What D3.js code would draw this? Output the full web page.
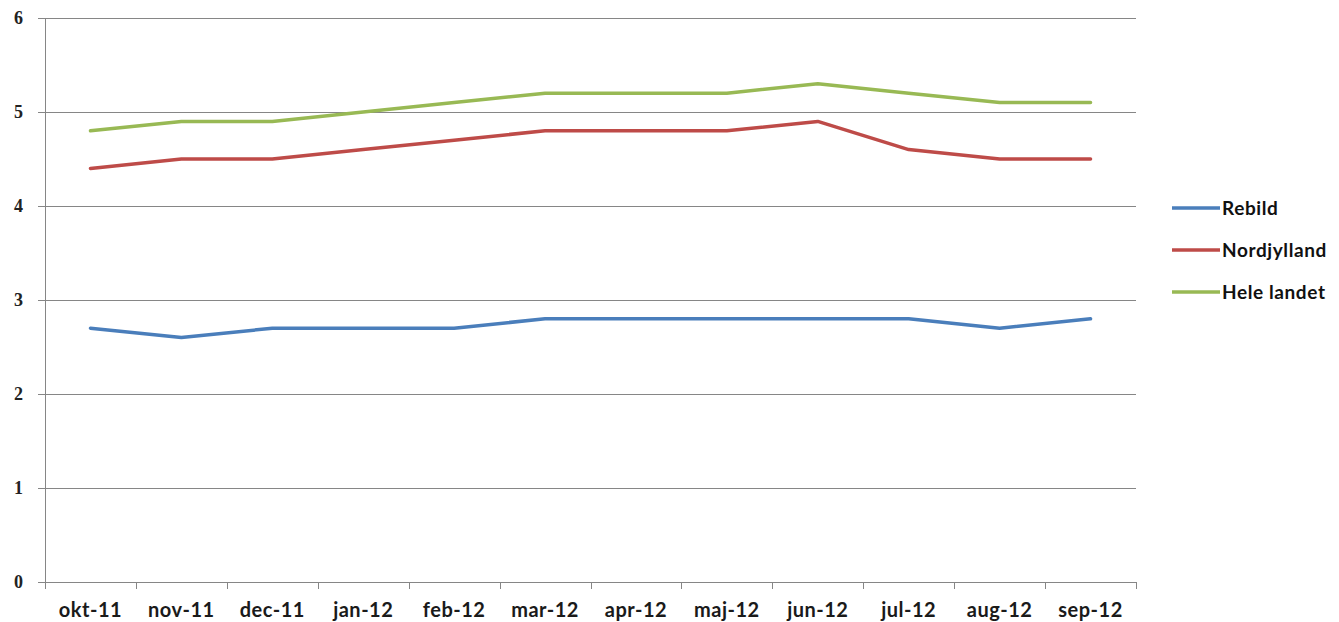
<!DOCTYPE html>
<html>
<head>
<meta charset="utf-8">
<script src="https://cdn.jsdelivr.net/npm/d3@7"></script>
<style>
  body { margin: 0; background: #fff; }
  svg { display: block; }
</style>
</head>
<body>
<script>
// maaneder langs x-aksen
const months = ["okt-11", "nov-11", "dec-11", "jan-12", "feb-12", "mar-12",
                "apr-12", "maj-12", "jun-12", "jul-12", "aug-12", "sep-12"];

// serier
const rebild = [2.7, 2.6, 2.7, 2.7, 2.7, 2.8, 2.8, 2.8, 2.8, 2.8, 2.7, 2.8];
const nordjylland = [4.4, 4.5, 4.5, 4.6, 4.7, 4.8, 4.8, 4.8, 4.9, 4.6, 4.5, 4.5];
const heleLandet = [4.8, 4.9, 4.9, 5.0, 5.1, 5.2, 5.2, 5.2, 5.3, 5.2, 5.1, 5.1];

const seriesNames = ["Rebild", "Nordjylland", "Hele landet"];
const seriesValues = [rebild, nordjylland, heleLandet];
const colors = ["#4A7EBB", "#BE4B48", "#98B954"];

const yTicks = [0, 1, 2, 3, 4, 5, 6];

const width = 1339, height = 622;
const plotLeft = 45, plotRight = 1136, plotTop = 18, plotBottom = 582;

const svg = d3.select("body").append("svg")
    .attr("width", width).attr("height", height);

const x = d3.scaleBand().domain(months).range([plotLeft, plotRight]);
const y = d3.scaleLinear().domain([0, 6]).range([plotBottom, plotTop]);

// gitterlinjer
svg.append("g").selectAll("line").data(yTicks).join("line")
    .attr("x1", plotLeft - 7).attr("x2", plotRight)
    .attr("y1", d => Math.round(y(d)) + 0.5).attr("y2", d => Math.round(y(d)) + 0.5)
    .attr("stroke", "#868686").attr("stroke-width", 1);

// y-akse
svg.append("line")
    .attr("x1", plotLeft + 0.5).attr("x2", plotLeft + 0.5)
    .attr("y1", plotTop).attr("y2", plotBottom)
    .attr("stroke", "#868686");

svg.append("g").selectAll("text").data(yTicks).join("text")
    .attr("x", 23).attr("y", d => y(d))
    .attr("dy", "0.35em")
    .attr("text-anchor", "end")
    .style("font-family", "Liberation Serif")
    .style("font-size", "18px")
    .style("font-weight", "bold")
    .attr("fill", "#222")
    .text(d => d);

// x-akse
const xAxis = svg.append("g")
    .attr("transform", `translate(0,${plotBottom + 0.5})`)
    .call(d3.axisBottom(x).tickSize(0).tickPadding(0));
xAxis.select(".domain").remove();
xAxis.selectAll("text")
    .attr("y", 34).attr("dy", 0)
    .style("font-family", "Lato")
    .style("font-size", "20px")
    .style("font-weight", "bold")
    .style("letter-spacing", "0.5px")
    .attr("fill", "#1a1a1a");

// skillestreger mellem kategorier
const bounds = months.map(m => x(m)).concat([plotRight]);
svg.append("g").selectAll("line").data(bounds).join("line")
    .attr("x1", d => Math.round(d) + 0.5).attr("x2", d => Math.round(d) + 0.5)
    .attr("y1", plotBottom).attr("y2", plotBottom + 7)
    .attr("stroke", "#868686");

// linjer
const line = d3.line()
    .x((d, i) => x(months[i]) + x.bandwidth() / 2)
    .y(d => y(d));

svg.append("g").selectAll("path").data(seriesValues).join("path")
    .attr("d", d => line(d))
    .attr("fill", "none")
    .attr("stroke", (d, i) => colors[i])
    .attr("stroke-width", 3.5)
    .attr("stroke-linejoin", "round")
    .attr("stroke-linecap", "round");

// forklaring
const legend = svg.append("g").selectAll("g").data(seriesNames).join("g")
    .attr("transform", (d, i) => `translate(1172,${208 + i * 42})`);
legend.append("line")
    .attr("x1", 0).attr("x2", 48)
    .attr("stroke", (d, i) => colors[i])
    .attr("stroke-width", 3.5);
legend.append("text")
    .attr("x", 50).attr("dy", "0.36em")
    .style("font-family", "Lato")
    .style("font-size", "19px")
    .style("font-weight", "bold")
    .style("letter-spacing", "0.6px")
    .attr("fill", "#111")
    .text(d => d);
</script>
</body>
</html>
